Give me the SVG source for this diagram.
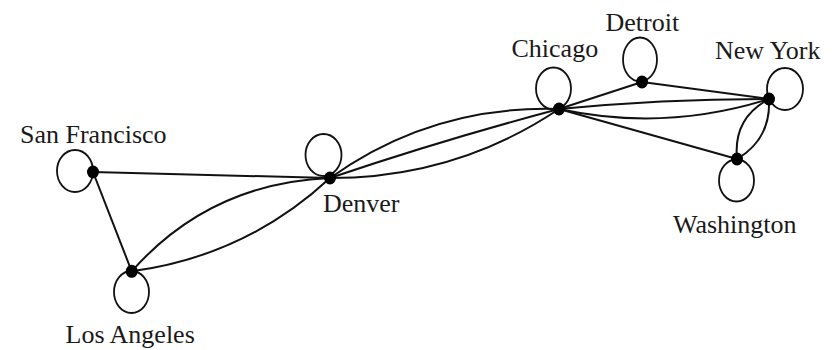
<svg xmlns="http://www.w3.org/2000/svg" width="832" height="350" viewBox="0 0 832 350">
<style>
.edge{fill:none;stroke:#111;stroke-width:2}
.loop{fill:none;stroke:#111;stroke-width:1.8}
.dot{fill:#000}
text{font-family:"Liberation Serif",serif;font-size:26px;fill:#1a1a1a}
</style>
<rect width="832" height="350" fill="#fff"/>
<g id="connectors">
<line class="edge" x1="93" y1="172" x2="330" y2="178"/>
<line class="edge" x1="93" y1="172" x2="131.7" y2="271.3"/>
<path class="edge" d="M131.7,271.3 Q210,183 330,178"/>
<path class="edge" d="M131.7,271.3 Q246,256 330,178"/>
<path class="edge" d="M330,178 Q432,105 559,109"/>
<path class="edge" d="M330,178 Q443.3,139.7 559,109"/>
<path class="edge" d="M330,178 Q456,178 559,109"/>
<line class="edge" x1="559" y1="109" x2="642" y2="82"/>
<line class="edge" x1="642" y1="82" x2="769" y2="99"/>
<path class="edge" d="M559,109 Q663.8,99 769,99"/>
<path class="edge" d="M559,109 Q665.2,132 769,99"/>
<line class="edge" x1="559" y1="109" x2="737" y2="159"/>
<path class="edge" d="M769,99 Q733,118 737,159"/>
<path class="edge" d="M769,99 Q771,139 737,159"/>
</g>
<g id="san-francisco">
<ellipse class="loop" cx="75" cy="171" rx="18" ry="21"/>
<ellipse class="dot" cx="93" cy="172" rx="6" ry="6.5"/>
<text x="20" y="143">San Francisco</text>
</g>
<g id="los-angeles">
<ellipse class="loop" cx="131.5" cy="292" rx="17.5" ry="21"/>
<ellipse class="dot" cx="131.7" cy="271.3" rx="6" ry="6.5"/>
<text x="65.5" y="343">Los Angeles</text>
</g>
<g id="denver">
<ellipse class="loop" cx="323.5" cy="155" rx="18" ry="21"/>
<ellipse class="dot" cx="330" cy="178" rx="6" ry="6.5"/>
<text x="323" y="212">Denver</text>
</g>
<g id="chicago">
<ellipse class="loop" cx="553.5" cy="88.5" rx="17.5" ry="21"/>
<ellipse class="dot" cx="559" cy="109" rx="6" ry="6.5"/>
<text x="511.5" y="56.5">Chicago</text>
</g>
<g id="detroit">
<ellipse class="loop" cx="640" cy="59.5" rx="17" ry="22"/>
<ellipse class="dot" cx="642" cy="82" rx="6" ry="6.5"/>
<text x="605.5" y="30.5">Detroit</text>
</g>
<g id="new-york">
<ellipse class="loop" cx="785" cy="89" rx="18" ry="21"/>
<ellipse class="dot" cx="769" cy="99" rx="6" ry="6.5"/>
<text x="715" y="59">New York</text>
</g>
<g id="washington">
<ellipse class="loop" cx="736.5" cy="180.5" rx="17.5" ry="21"/>
<ellipse class="dot" cx="737" cy="159" rx="6" ry="6.5"/>
<text x="673" y="233">Washington</text>
</g>
</svg>
